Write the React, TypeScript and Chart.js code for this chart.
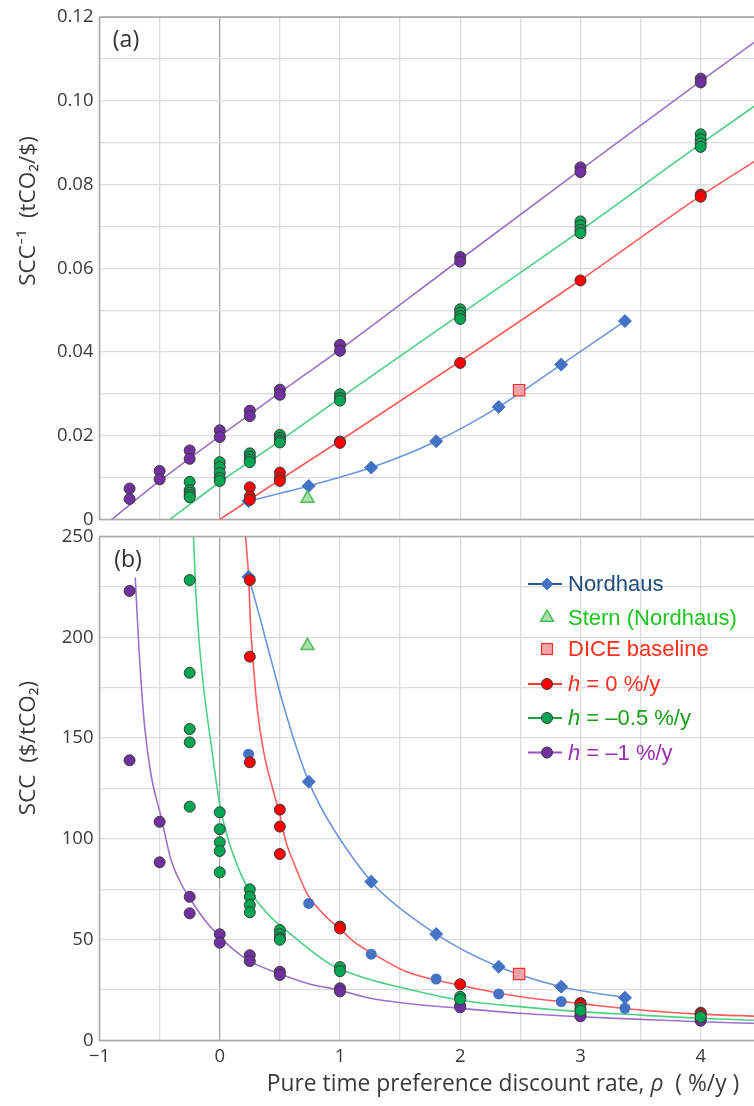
import React, { useEffect, useRef } from 'react';
import { Chart, registerables } from 'chart.js';

Chart.register(...registerables);

// ---------- axes ----------
const rhoMin = -1;
const rhoMax = 4.5;
const xTickValues = [-1, 0, 1, 2, 3, 4];
const xTickLabels = ['−1', '0', '1', '2', '3', '4'];

const invTickValues = [0, 0.02, 0.04, 0.06, 0.08, 0.1, 0.12];
const invTickLabels = ['0', '0.02', '0.04', '0.06', '0.08', '0.10', '0.12'];

const sccTickValues = [0, 50, 100, 150, 200, 250];
const sccTickLabels = ['0', '50', '100', '150', '200', '250'];

// ---------- panel (a): SCC^-1 (tCO2/$) ----------
const rhoA_hm1 = [-0.75, -0.75, -0.5, -0.5, -0.25, -0.25, 0, 0, 0.25, 0.25, 0.5, 0.5, 1, 1, 2, 2, 3, 3, 4, 4];
const invA_hm1 = [0.0074, 0.0049, 0.0116, 0.0096, 0.0165, 0.0145, 0.0213, 0.0197, 0.026, 0.0247, 0.031, 0.0298, 0.0417, 0.0403, 0.0627, 0.0616, 0.0841, 0.083, 0.1053, 0.1044];

const rhoA_hm05 = [-0.25, -0.25, -0.25, -0.25, -0.25, 0, 0, 0, 0, 0, 0.25, 0.25, 0.25, 0.25, 0.5, 0.5, 0.5, 0.5, 1, 1, 1, 2, 2, 2, 2, 3, 3, 3, 3, 4, 4, 4, 4];
const invA_hm05 = [0.009, 0.007, 0.0064, 0.0058, 0.0053, 0.0137, 0.0125, 0.0111, 0.0099, 0.0092, 0.0158, 0.015, 0.0143, 0.0137, 0.0202, 0.0195, 0.0189, 0.0184, 0.0299, 0.029, 0.0284, 0.0502, 0.0494, 0.0486, 0.0479, 0.0712, 0.0702, 0.0692, 0.0684, 0.092, 0.0908, 0.0898, 0.089];

const rhoA_h0 = [0.25, 0.25, 0.25, 0.5, 0.5, 0.5, 1, 1, 2, 3, 4, 4];
const invA_h0 = [0.0077, 0.0055, 0.0047, 0.0112, 0.0099, 0.0092, 0.0186, 0.0183, 0.0374, 0.0571, 0.0776, 0.0771];

const rhoNordhaus = [0.24, 0.74, 1.26, 1.8, 2.32, 2.84, 3.37];
const invA_nordhaus = [0.0044, 0.008, 0.0124, 0.0187, 0.0269, 0.037, 0.0474];

const rhoStern = [0.73];
const invA_stern = [0.005];
const rhoDice = [2.49];
const invA_dice = [0.0309];

// fitted lines, panel (a)
const fitA_hm1_rho = [-0.9, -0.5, 0, 0.5, 1, 2, 3, 4, 4.5];
const fitA_hm1 = [0, 0.0092, 0.0199, 0.0303, 0.0406, 0.0621, 0.0835, 0.1047, 0.1151];
const fitA_hm05_rho = [-0.414, 0, 0.5, 1, 2, 3, 4, 4.5];
const fitA_hm05 = [0, 0.0089, 0.0188, 0.029, 0.049, 0.069, 0.0897, 0.0998];
const fitA_h0_rho = [0, 0.5, 1, 2, 3, 4, 4.5];
const fitA_h0 = [0, 0.0095, 0.0188, 0.0378, 0.0572, 0.0773, 0.0865];

// ---------- panel (b): SCC ($/tCO2) ----------
const rhoB_hm1 = [-0.75, -0.75, -0.5, -0.5, -0.25, -0.25, 0, 0, 0.25, 0.25, 0.5, 0.5, 1, 1, 2, 2, 3, 3, 4, 4];
const sccB_hm1 = [223, 139, 108.5, 88.4, 71.3, 63.1, 52.7, 48.5, 42.3, 39.4, 34.1, 32.5, 25.9, 24.4, 17.2, 16.5, 12.6, 12.0, 10.2, 9.8];

const rhoB_hm05 = [-0.25, -0.25, -0.25, -0.25, -0.25, 0, 0, 0, 0, 0, 0.25, 0.25, 0.25, 0.25, 0.5, 0.5, 0.5, 0.5, 1, 1, 2, 2, 3, 3, 4, 4];
const sccB_hm05 = [228.4, 182.4, 154.5, 147.9, 116.0, 113.2, 104.8, 98.3, 94.0, 83.4, 75.0, 71.3, 67.2, 63.6, 54.8, 52.7, 50.8, 50.0, 36.4, 34.4, 21.7, 20.4, 16.0, 14.8, 12.2, 11.6];

const rhoB_h0 = [0.25, 0.25, 0.25, 0.5, 0.5, 0.5, 1, 1, 2, 3, 3, 4, 4];
const sccB_h0 = [228.4, 190.4, 138.0, 114.5, 106.1, 92.5, 56.5, 55.6, 27.9, 18.6, 18.0, 13.8, 13.3];

const sccB_nordhaus = [230, 128.4, 78.8, 52.8, 36.6, 26.7, 21.2];
const sccB_nordhausRuns = [142.0, 68.0, 42.8, 30.5, 23.1, 19.3, 16.0];
const sccB_stern = [195.8];
const sccB_dice = [33.0];

// fitted curves, panel (b)
const fitB_h0_rho = [0.215, 0.242, 0.256, 0.275, 0.311, 0.366, 0.449, 0.5, 0.546, 0.629, 0.725, 0.9, 1.0, 1.125, 1.262, 1.538, 1.99, 2.5, 2.99, 3.5, 3.99, 4.5];
const fitB_h0 = [250, 228, 206, 190, 165, 143, 123, 112, 99.5, 86.2, 73.0, 60.5, 55.5, 48.5, 43.5, 34.5, 27.5, 21.7, 18.4, 15.1, 13.1, 12.0];
const fitB_hm05_rho = [-0.218, -0.199, -0.171, -0.13, -0.074, 0.0, 0.05, 0.118, 0.228, 0.394, 0.615, 0.9, 1.0, 1.262, 1.538, 1.99, 2.49, 2.99, 3.5, 3.99, 4.5];
const fitB_hm05 = [250, 222.6, 197.8, 173, 148, 117, 104, 91.2, 76.3, 63.1, 51.5, 38.5, 35.5, 30, 25.9, 20.1, 16.8, 14.3, 12.6, 11.0, 10.0];
const fitB_hm1_rho = [-0.703, -0.667, -0.626, -0.571, -0.488, -0.405, -0.323, -0.24, -0.103, 0, 0.118, 0.256, 0.49, 0.725, 0.99, 1.262, 1.538, 1.99, 2.49, 2.99, 3.5, 3.99, 4.5];
const fitB_hm1 = [229.6, 189.6, 156.5, 131.7, 111, 89.5, 78, 69.7, 58.1, 51.5, 44.9, 39.1, 33.3, 28.4, 25.0, 20.8, 18.5, 16.0, 13.5, 11.8, 10.5, 9.3, 8.4];

// ---------- styling ----------
const CANVAS_W = 770;
const CANVAS_H = 1106;
const AXIS_LEFT = 99.5;
const A_TOP = 14.5;
const A_BOTTOM = 519.5;
const B_TOP = 536.5;
const B_BOTTOM = 1040.5;
const RIGHT_PAD = 5.5;

const AXIS_FONT = '"Open Sans", Lato, sans-serif';
const LEGEND_FONT = '"Liberation Sans", Arial, sans-serif';
const TEXT_COLOR = '#3a3a3a';
const GRID_COLOR = '#dcdcdc';
const FRAME_COLOR = '#a9a9a9';
const DOT_EDGE = '#3a3a3a';

const PURPLE = '#7030a0';
const GREEN = '#00a651';
const RED = '#ff0000';
const BLUE = '#4472c4';
const PURPLE_LINE = '#9c72c9';
const GREEN_LINE = '#4fcf86';
const RED_LINE = '#ff5b5b';
const BLUE_LINE = '#6d97da';

type Pt = { x: number; y: number };
const pair = (xs: number[], ys: number[]): Pt[] => xs.map((x, i) => ({ x, y: ys[i] }));

const labelFor = (v: number, values: number[], labels: string[]) => {
  const i = values.findIndex((t) => Math.abs(t - v) < 1e-7);
  return i >= 0 ? labels[i] : '';
};

function xScale(showLabels: boolean, height: number) {
  return {
    type: 'linear',
    min: rhoMin,
    max: rhoMax,
    afterFit: (s: any) => {
      s.height = height;
    },
    border: { display: false },
    grid: {
      drawTicks: false,
      lineWidth: 1.3,
      color: (c: any) => (c.tick && Math.abs(c.tick.value) < 1e-9 ? '#a4a4a4' : GRID_COLOR),
    },
    ticks: {
      display: showLabels,
      stepSize: 0.5,
      autoSkip: false,
      maxRotation: 0,
      padding: 5,
      color: TEXT_COLOR,
      font: { family: AXIS_FONT, size: 18.5 },
      callback: (v: any) => labelFor(Number(v), xTickValues, xTickLabels),
    },
  };
}

function yScale(max: number, step: number, values: number[], labels: string[]) {
  return {
    type: 'linear',
    min: 0,
    max,
    afterFit: (s: any) => {
      s.width = AXIS_LEFT;
    },
    border: { display: false },
    grid: { drawTicks: false, lineWidth: 1.3, color: GRID_COLOR },
    ticks: {
      stepSize: step,
      autoSkip: false,
      padding: 6,
      color: TEXT_COLOR,
      font: { family: AXIS_FONT, size: 18.5 },
      callback: (v: any) => labelFor(Number(v), values, labels),
    },
  };
}

const dots = (data: Pt[], fill: string, radius: number, order: number) => ({
  data,
  showLine: false,
  pointStyle: 'circle',
  pointRadius: radius,
  pointHoverRadius: radius,
  pointBackgroundColor: fill,
  pointBorderColor: DOT_EDGE,
  pointBorderWidth: 1,
  order,
});

const curve = (data: Pt[], color: string, order: number) => ({
  data,
  showLine: true,
  borderColor: color,
  borderWidth: 1.6,
  pointRadius: 0,
  pointHoverRadius: 0,
  cubicInterpolationMode: 'monotone',
  fill: false,
  order,
});

const nordhausLine = (data: Pt[], order: number) => ({
  data,
  showLine: true,
  borderColor: BLUE_LINE,
  borderWidth: 1.6,
  tension: 0.3,
  pointStyle: 'rectRot',
  pointRadius: 6.5,
  pointHoverRadius: 6.5,
  pointBackgroundColor: BLUE,
  pointBorderColor: BLUE,
  pointBorderWidth: 1,
  fill: false,
  order,
});

const sternMark = (data: Pt[]) => ({
  data,
  showLine: false,
  pointStyle: 'triangle',
  pointRadius: 7.5,
  pointHoverRadius: 7.5,
  pointBackgroundColor: 'rgba(150, 210, 150, 0.75)',
  pointBorderColor: '#4cbf5c',
  pointBorderWidth: 1.5,
  order: 0,
});

const diceMark = (data: Pt[]) => ({
  data,
  showLine: false,
  pointStyle: 'rect',
  pointRadius: 8,
  pointHoverRadius: 8,
  pointBackgroundColor: '#f6a2aa',
  pointBorderColor: '#ff3030',
  pointBorderWidth: 1.2,
  order: 0,
});

// ---------- drawing helpers ----------
type Run = { t: string; italic?: boolean };

function drawRuns(
  ctx: CanvasRenderingContext2D,
  runs: Run[],
  x: number,
  y: number,
  size: number,
  family: string,
  color: string,
  align: 'left' | 'center'
) {
  const fontOf = (it?: boolean) => `${it ? 'italic ' : ''}${size}px ${family}`;
  let total = 0;
  for (const r of runs) {
    ctx.font = fontOf(r.italic);
    total += ctx.measureText(r.t).width;
  }
  let cx = align === 'center' ? x - total / 2 : x;
  ctx.fillStyle = color;
  ctx.textAlign = 'left';
  ctx.textBaseline = 'middle';
  for (const r of runs) {
    ctx.font = fontOf(r.italic);
    ctx.fillText(r.t, cx, y);
    cx += ctx.measureText(r.t).width;
  }
}

function drawVerticalTitle(ctx: CanvasRenderingContext2D, text: string, x: number, y: number) {
  ctx.save();
  ctx.translate(x, y);
  ctx.rotate(-Math.PI / 2);
  ctx.font = `22.5px ${AXIS_FONT}`;
  ctx.fillStyle = TEXT_COLOR;
  ctx.textAlign = 'center';
  ctx.textBaseline = 'middle';
  ctx.fillText(text, 0, 0);
  ctx.restore();
}

const framePlugin = {
  id: 'panelFrame',
  beforeDatasetsDraw(chart: any) {
    const { ctx, chartArea: a } = chart;
    ctx.save();
    ctx.strokeStyle = FRAME_COLOR;
    ctx.lineWidth = 1.6;
    ctx.strokeRect(a.left, a.top, a.right - a.left, a.bottom - a.top);
    ctx.restore();
  },
};

const panelAText = {
  id: 'panelAText',
  afterDraw(chart: any) {
    const ctx: CanvasRenderingContext2D = chart.ctx;
    ctx.save();
    drawRuns(ctx, [{ t: '(a)' }], 126, 40, 23, AXIS_FONT, '#303030', 'center');
    drawVerticalTitle(ctx, 'SCC⁻¹  (tCO₂/$)', 29, 211);
    ctx.restore();
  },
};

type LegendRow = {
  kind: 'lineDiamond' | 'triangle' | 'square' | 'lineDot';
  runs: Run[];
  text: string;
  line?: string;
  fill?: string;
  y: number;
};

const legendRows: LegendRow[] = [
  { kind: 'lineDiamond', runs: [{ t: 'Nordhaus' }], text: '#1f4e79', line: '#2f5597', fill: BLUE, y: 584 },
  { kind: 'triangle', runs: [{ t: 'Stern (Nordhaus)' }], text: '#1ec41e', y: 617.5 },
  { kind: 'square', runs: [{ t: 'DICE baseline' }], text: '#ff2d1d', y: 649 },
  { kind: 'lineDot', runs: [{ t: 'h', italic: true }, { t: ' = 0 %/y' }], text: '#ff2d1d', line: '#ff3a3a', fill: RED, y: 684 },
  { kind: 'lineDot', runs: [{ t: 'h', italic: true }, { t: ' = –0.5 %/y' }], text: '#179c17', line: '#1e9e3e', fill: GREEN, y: 718 },
  { kind: 'lineDot', runs: [{ t: 'h', italic: true }, { t: ' = –1 %/y' }], text: '#9a2fb0', line: '#9b4fc0', fill: PURPLE, y: 752.5 },
];

const panelBText = {
  id: 'panelBText',
  afterDraw(chart: any) {
    const ctx: CanvasRenderingContext2D = chart.ctx;
    ctx.save();
    drawRuns(ctx, [{ t: '(b)' }], 128, 560, 23, AXIS_FONT, '#303030', 'center');
    drawVerticalTitle(ctx, 'SCC  ($/tCO₂)', 29, 748);
    drawRuns(
      ctx,
      [{ t: 'Pure time preference discount rate, ' }, { t: 'ρ', italic: true }, { t: '  ( %/y )' }],
      503,
      1085,
      22.8,
      AXIS_FONT,
      TEXT_COLOR,
      'center'
    );

    // legend
    const mx = 547;
    for (const r of legendRows) {
      const y = r.y;
      if (r.line) {
        ctx.strokeStyle = r.line;
        ctx.lineWidth = 2;
        ctx.beginPath();
        ctx.moveTo(528, y);
        ctx.lineTo(562, y);
        ctx.stroke();
      }
      if (r.kind === 'lineDiamond') {
        const s = 6.5;
        ctx.fillStyle = r.fill!;
        ctx.beginPath();
        ctx.moveTo(mx, y - s);
        ctx.lineTo(mx + s, y);
        ctx.lineTo(mx, y + s);
        ctx.lineTo(mx - s, y);
        ctx.closePath();
        ctx.fill();
      } else if (r.kind === 'triangle') {
        const s = 7.5;
        ctx.fillStyle = 'rgba(150, 210, 150, 0.75)';
        ctx.strokeStyle = '#4cbf5c';
        ctx.lineWidth = 1.5;
        ctx.beginPath();
        ctx.moveTo(mx, y - s);
        ctx.lineTo(mx + s * 0.866, y + s * 0.5);
        ctx.lineTo(mx - s * 0.866, y + s * 0.5);
        ctx.closePath();
        ctx.fill();
        ctx.stroke();
      } else if (r.kind === 'square') {
        const h = 5.5;
        ctx.fillStyle = '#f6a2aa';
        ctx.strokeStyle = '#ff3030';
        ctx.lineWidth = 1.2;
        ctx.fillRect(mx - h, y - h, 2 * h, 2 * h);
        ctx.strokeRect(mx - h, y - h, 2 * h, 2 * h);
      } else {
        ctx.fillStyle = r.fill!;
        ctx.strokeStyle = DOT_EDGE;
        ctx.lineWidth = 1;
        ctx.beginPath();
        ctx.arc(mx, y, 5.5, 0, Math.PI * 2);
        ctx.fill();
        ctx.stroke();
      }
      drawRuns(ctx, r.runs, 568, y + 1, 22, LEGEND_FONT, r.text, 'left');
    }
    ctx.restore();
  },
};

const baseOptions = {
  responsive: false,
  animation: false,
  events: [],
  plugins: { legend: { display: false }, tooltip: { enabled: false } },
};

export default function App() {
  const topRef = useRef<HTMLCanvasElement | null>(null);
  const bottomRef = useRef<HTMLCanvasElement | null>(null);

  useEffect(() => {
    if (!topRef.current || !bottomRef.current) return;

    const chartA = new Chart(topRef.current, {
      type: 'scatter',
      data: {
        datasets: [
          curve(pair(fitA_hm1_rho, fitA_hm1), PURPLE_LINE, 10),
          curve(pair(fitA_hm05_rho, fitA_hm05), GREEN_LINE, 10),
          curve(pair(fitA_h0_rho, fitA_h0), RED_LINE, 10),
          nordhausLine(pair(rhoNordhaus, invA_nordhaus), 4),
          dots(pair(rhoA_hm1, invA_hm1), PURPLE, 5.5, 3),
          dots(pair(rhoA_h0, invA_h0), RED, 5.5, 2),
          dots(pair(rhoA_hm05, invA_hm05), GREEN, 5.5, 1),
          sternMark(pair(rhoStern, invA_stern)),
          diceMark(pair(rhoDice, invA_dice)),
        ] as any,
      },
      options: {
        ...baseOptions,
        layout: { padding: { top: A_TOP, left: 0, right: RIGHT_PAD, bottom: CANVAS_H - A_BOTTOM } },
        scales: {
          x: xScale(false, 0),
          y: yScale(0.12, 0.01, invTickValues, invTickLabels),
        },
      } as any,
      plugins: [framePlugin, panelAText],
    });

    const chartB = new Chart(bottomRef.current, {
      type: 'scatter',
      data: {
        datasets: [
          curve(pair(fitB_hm1_rho, fitB_hm1), PURPLE_LINE, 10),
          curve(pair(fitB_hm05_rho, fitB_hm05), GREEN_LINE, 10),
          curve(pair(fitB_h0_rho, fitB_h0), RED_LINE, 10),
          nordhausLine(pair(rhoNordhaus, sccB_nordhaus), 4),
          {
            data: pair(rhoNordhaus, sccB_nordhausRuns),
            showLine: false,
            pointStyle: 'circle',
            pointRadius: 5.5,
            pointHoverRadius: 5.5,
            pointBackgroundColor: BLUE,
            pointBorderColor: BLUE,
            pointBorderWidth: 0,
            order: 5,
          },
          dots(pair(rhoB_hm1, sccB_hm1), PURPLE, 5.5, 3),
          dots(pair(rhoB_h0, sccB_h0), RED, 5.5, 2),
          dots(pair(rhoB_hm05, sccB_hm05), GREEN, 5.5, 1),
          sternMark(pair(rhoStern, sccB_stern)),
          diceMark(pair(rhoDice, sccB_dice)),
        ] as any,
      },
      options: {
        ...baseOptions,
        layout: { padding: { top: B_TOP, left: 0, right: RIGHT_PAD, bottom: 0 } },
        scales: {
          x: xScale(true, CANVAS_H - B_BOTTOM),
          y: yScale(250, 25, sccTickValues, sccTickLabels),
        },
      } as any,
      plugins: [framePlugin, panelBText],
    });

    return () => {
      chartA.destroy();
      chartB.destroy();
    };
  }, []);

  const canvasStyle: React.CSSProperties = {
    position: 'absolute',
    left: 0,
    top: 0,
    width: CANVAS_W,
    height: CANVAS_H,
  };

  return (
    <div
      style={{
        position: 'absolute',
        left: 0,
        top: 0,
        width: 754,
        height: 1106,
        overflow: 'hidden',
        background: '#ffffff',
      }}
    >
      <canvas ref={topRef} width={CANVAS_W} height={CANVAS_H} style={canvasStyle} />
      <canvas ref={bottomRef} width={CANVAS_W} height={CANVAS_H} style={canvasStyle} />
    </div>
  );
}
